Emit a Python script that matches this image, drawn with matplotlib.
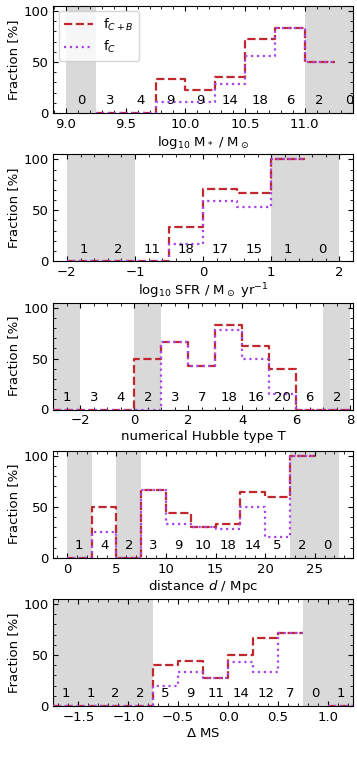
import numpy as np
import matplotlib
matplotlib.use("Agg")
import matplotlib.pyplot as plt
from matplotlib.ticker import AutoMinorLocator, MultipleLocator

nan = np.nan

# Panel 1: stellar mass
mass_edges = [9.0, 9.25, 9.5, 9.75, 10.0, 10.25, 10.5, 10.75, 11.0, 11.25, 11.5]
mass_counts = [0, 3, 4, 9, 9, 14, 18, 6, 2, 0]
mass_fCB = [nan, 0, 0, 33.3, 22.2, 35.7, 72.2, 83.3, 50.0, nan]
mass_fC = [nan, 0, 0, 11.1, 11.1, 28.6, 55.6, 83.3, 50.0, nan]

# Panel 2: SFR
sfr_edges = [-2.0, -1.5, -1.0, -0.5, 0.0, 0.5, 1.0, 1.5, 2.0]
sfr_counts = [1, 2, 11, 18, 17, 15, 1, 0]
sfr_fCB = [0, 0, 0, 33.3, 70.6, 66.7, 100.0, nan]
sfr_fC = [0, 0, 0, 16.7, 58.8, 53.3, 100.0, nan]

# Panel 3: Hubble type
t_edges = [-3, -2, -1, 0, 1, 2, 3, 4, 5, 6, 7, 8]
t_counts = [1, 3, 4, 2, 3, 7, 18, 16, 20, 6, 2]
t_fCB = [0, 0, 0, 50.0, 66.7, 42.9, 83.3, 62.5, 40.0, 0, 0]
t_fC = [0, 0, 0, 0, 66.7, 42.9, 77.8, 50.0, 15.0, 0, 0]

# Panel 4: distance
d_edges = [0, 2.5, 5, 7.5, 10, 12.5, 15, 17.5, 20, 22.5, 25, 27.5]
d_counts = [1, 4, 2, 3, 9, 10, 18, 14, 5, 2, 0]
d_fCB = [0, 50.0, 0, 66.7, 44.4, 30.0, 33.3, 64.3, 60.0, 100.0, nan]
d_fC = [0, 25.0, 0, 66.7, 33.3, 30.0, 27.8, 50.0, 20.0, 100.0, nan]

# Panel 5: Delta MS
ms_edges = [-1.75, -1.5, -1.25, -1.0, -0.75, -0.5, -0.25, 0.0, 0.25, 0.5, 0.75, 1.0, 1.25]
ms_counts = [1, 1, 2, 2, 5, 9, 11, 14, 12, 7, 0, 1]
ms_fCB = [0, 0, 0, 0, 40.0, 44.4, 27.3, 50.0, 66.7, 71.4, nan, 0]
ms_fC = [0, 0, 0, 0, 20.0, 33.3, 27.3, 42.9, 33.3, 71.4, nan, 0]

panels = [
    (mass_edges, mass_counts, mass_fCB, mass_fC, r"log$_{10}$ M$_*$ / M$_\odot$", (8.894, 11.404), 0.5),
    (sfr_edges, sfr_counts, sfr_fCB, sfr_fC, r"log$_{10}$ SFR / M$_\odot$ yr$^{-1}$", (-2.2, 2.2), 1.0),
    (t_edges, t_counts, t_fCB, t_fC, "numerical Hubble type T", (-3.0, 8.1), 2.0),
    (d_edges, d_counts, d_fCB, d_fC, r"distance $d$ / Mpc", (-1.375, 28.875), 5.0),
    (ms_edges, ms_counts, ms_fCB, ms_fC, r"$\Delta$ MS", (-1.75, 1.25), 0.5),
]

red = "#c0282d"
purple = "#a845ea"
fs = 9.5

fig = plt.figure(figsize=(3.57, 7.59), dpi=100)
W, H = 357.0, 759.0
left, right = 53.3, 353.0
for k, (edges, counts, fcb, fc, xlabel, xlim, major) in enumerate(panels):
    bottom_px = 113 + 148.25 * k
    ax_h = 107.0
    ax = fig.add_axes([left / W, (H - bottom_px) / H, (right - left) / W, ax_h / H])
    edges = np.asarray(edges, float)
    for i, c in enumerate(counts):
        if c < 3:
            ax.axvspan(edges[i], edges[i + 1], color="0.85", lw=0, zorder=0)
    ycb = np.append(np.asarray(fcb, float), fcb[-1])
    yc = np.append(np.asarray(fc, float), fc[-1])
    ax.plot(edges, ycb, drawstyle="steps-post", color=red, ls="--", lw=1.6,
            label=r"f$_{C+B}$", zorder=3)
    ax.plot(edges, yc, drawstyle="steps-post", color=purple, ls=":", lw=1.6,
            label=r"f$_C$", zorder=4)
    for i, c in enumerate(counts):
        ax.text(0.5 * (edges[i] + edges[i + 1]), 12, str(c), ha="center", va="center",
                fontsize=fs, zorder=5)
    ax.set_xlim(*xlim)
    ax.set_ylim(0, 105)
    ax.set_yticks([0, 50, 100])
    ax.xaxis.set_major_locator(MultipleLocator(major))
    ax.xaxis.set_minor_locator(AutoMinorLocator())
    ax.yaxis.set_minor_locator(AutoMinorLocator(5))
    ax.tick_params(which="both", direction="in", top=True, right=True, labelsize=fs)
    ax.tick_params(which="major", length=3.5)
    ax.tick_params(which="minor", length=2)
    ax.set_xlabel(xlabel, fontsize=fs, labelpad=2)
    ax.set_ylabel("Fraction [%]", fontsize=fs, labelpad=2)
    if k == 0:
        ax.legend(loc="upper left", fontsize=fs, handlelength=2.2,
                  borderaxespad=0.4)

fig.savefig("out.png", dpi=100)
